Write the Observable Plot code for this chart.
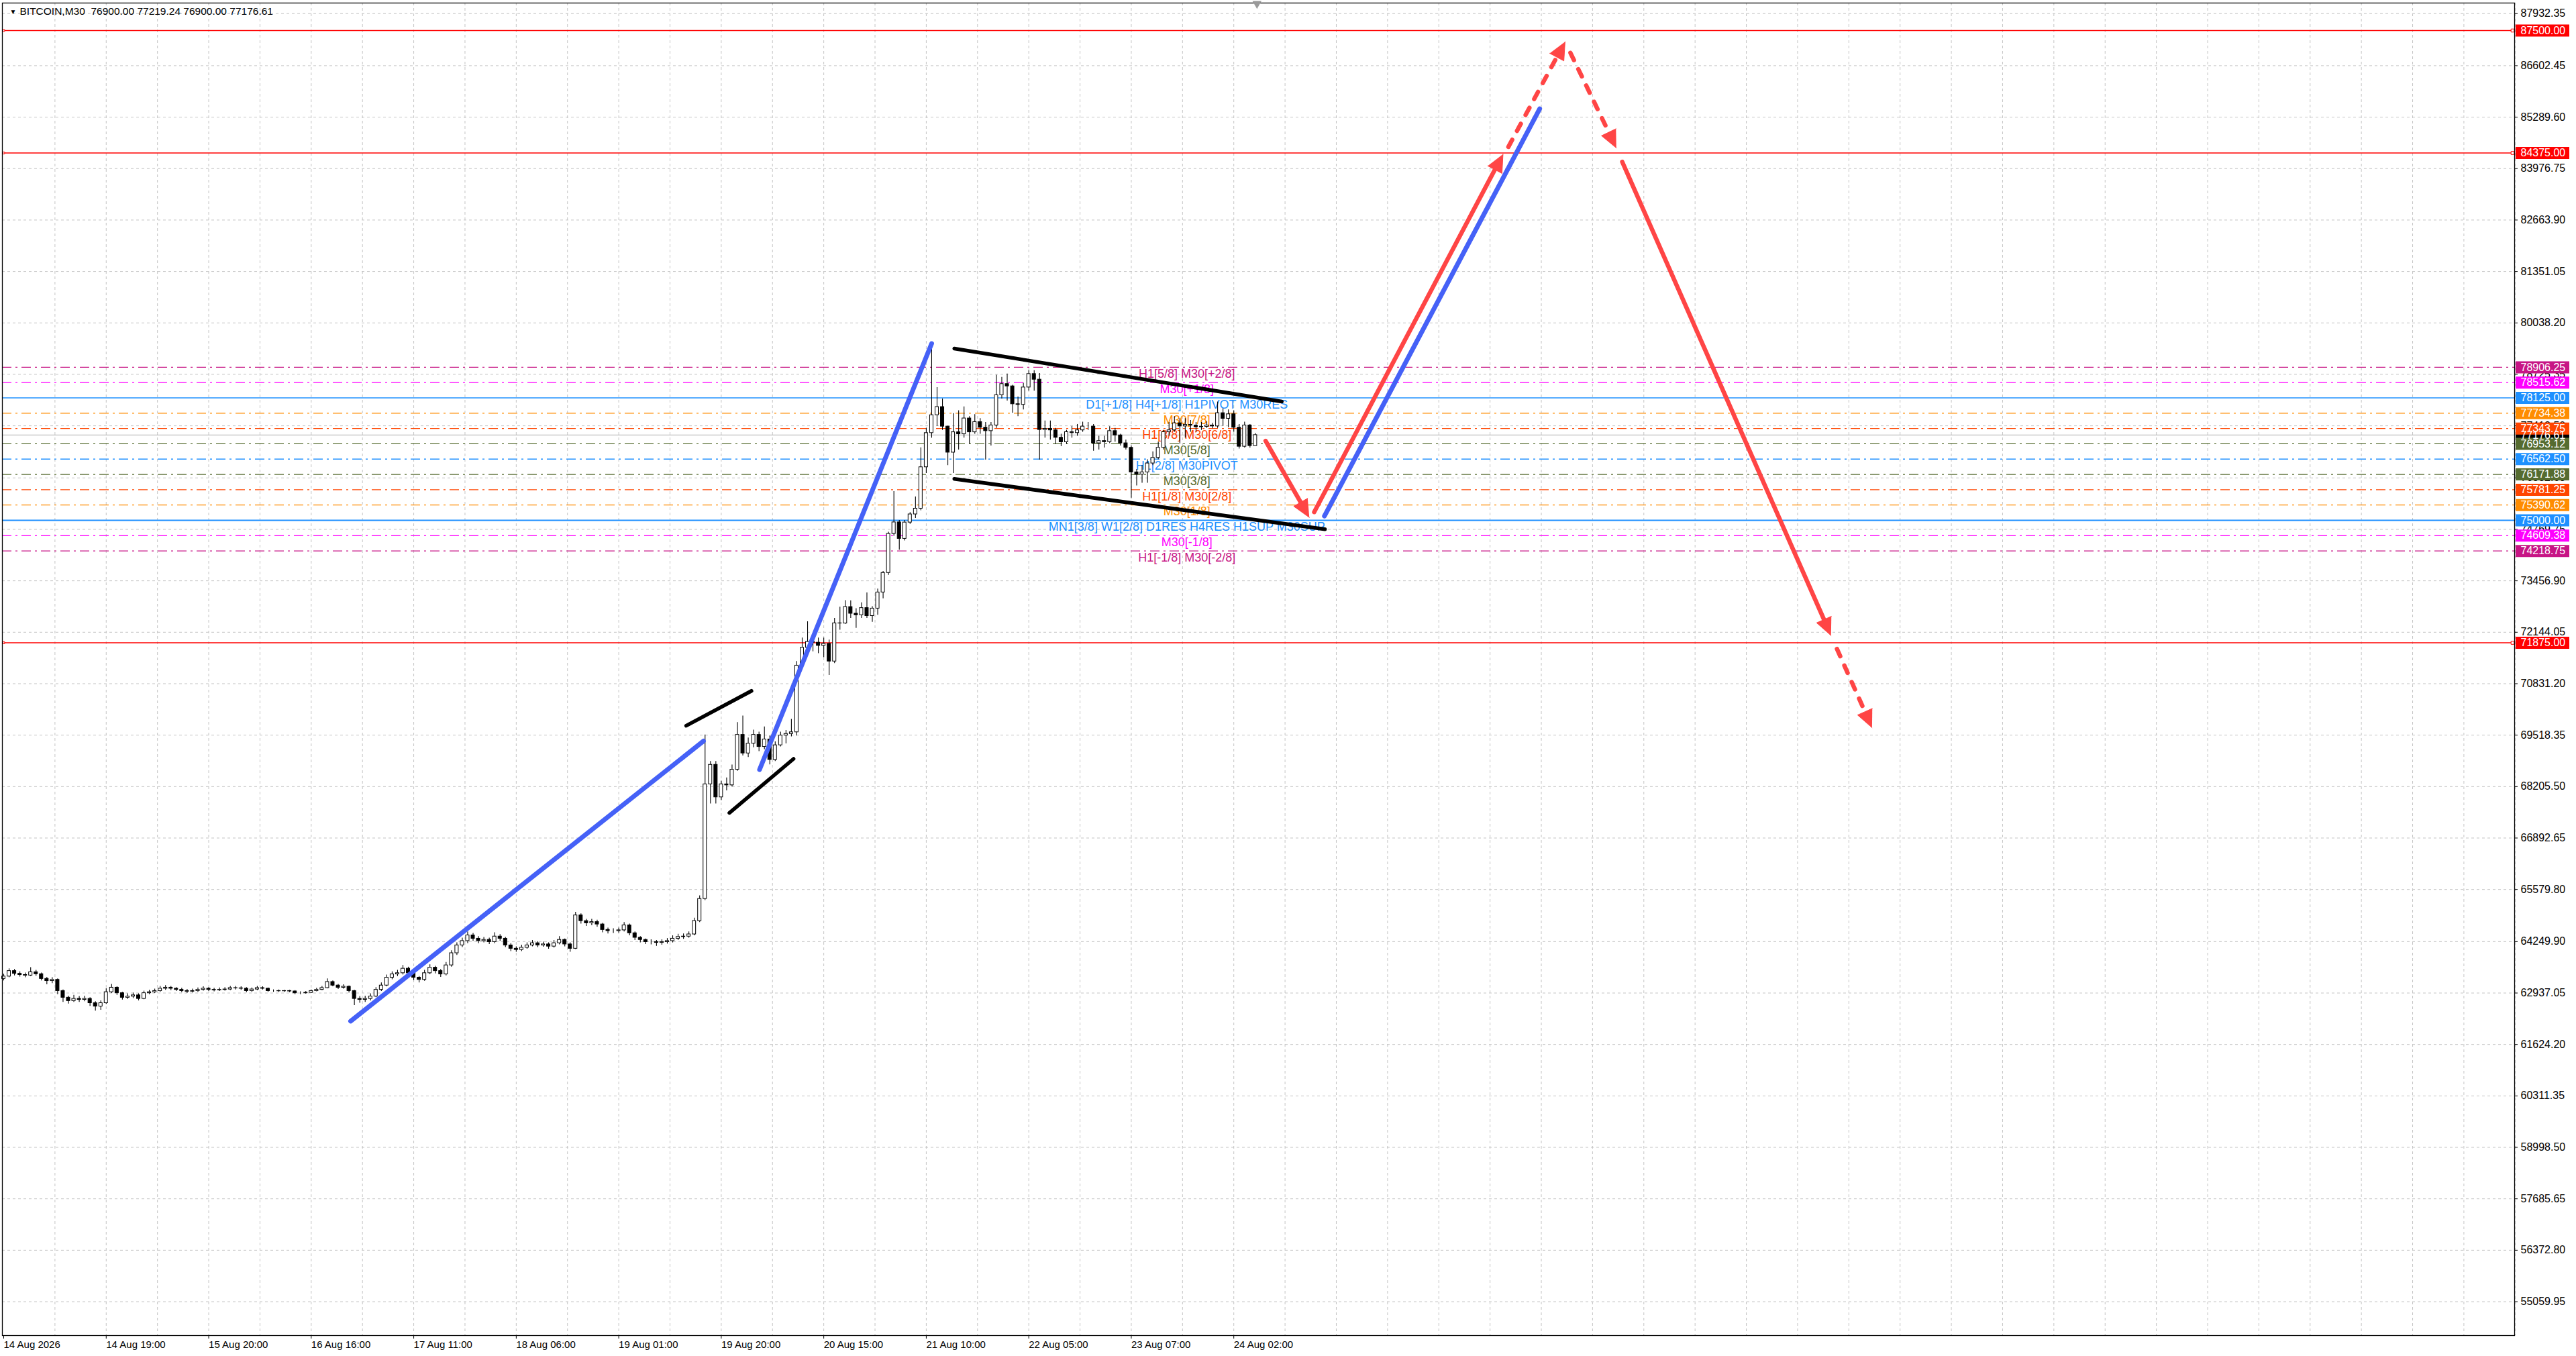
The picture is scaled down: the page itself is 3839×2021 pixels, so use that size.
<!DOCTYPE html>
<html><head><meta charset="utf-8">
<script src="https://cdn.jsdelivr.net/npm/d3@7"></script>
<script src="https://cdn.jsdelivr.net/npm/@observablehq/plot@0.6"></script>
<style>
html,body{margin:0;padding:0;background:#fff;}
#chart svg{display:block;}
</style></head><body><div id="chart"></div>
<script>
// ---------- data ----------
const symbol = "BITCOIN", period = "M30";
const firstOpen = 63300;
const barClose = [
63360,63500,63430,63400,63385,63470,63420,63300,63245,63275,
62990,62820,62735,62790,62765,62790,62680,62595,62680,62960,
63075,62935,62820,62850,62880,62790,62935,62960,62990,63050,
63075,63050,63020,62990,62975,62990,63020,63050,63020,63010,
63020,63030,63065,63060,63050,62990,63030,63065,63050,62990,
62990,62985,62990,62980,62935,62935,62945,62990,63020,63065,
63220,63130,63075,63100,62990,62790,62765,62790,62850,63020,
63130,63330,63415,63445,63560,63445,63330,63275,63445,63585,
63500,63415,63645,63955,64155,64265,64410,64325,64265,64295,
64240,64380,64325,64155,64070,64040,64095,64155,64210,64155,
64180,64125,64210,64295,64180,64070,64920,64775,64720,64750,
64690,64550,64520,64520,64540,64665,64465,64350,64295,64240,
64240,64220,64240,64265,64325,64370,64380,64435,64775,65340,
68265,68763,67933,68265,68240,68638,69527,69054,69303,69527,
69220,69411,68888,69261,69510,69551,69593,71294,71750,71900,
71880,71800,71850,71400,72374,72370,72789,72620,72581,72763,
72560,72750,73162,73660,74656,74950,74531,74946,75154,75300,
76357,77229,77685,77893,77395,76731,77250,77200,77602,77250,
77510,77367,77280,77424,78194,78480,78422,77966,77950,78393,
78736,78593,77310,77338,77300,77110,76996,77253,77230,77300,
77395,77395,76968,77025,77000,77280,77170,76968,76853,76227,
76170,76227,76454,76597,76853,77253,77300,77480,77400,77440,
77420,77380,77390,77424,77400,77737,77595,77709,77367,76882,
77424,76900,77176.61];
const barHigh = [
63420,63560,63540,63480,63450,63590,63520,63450,63340,63330,
63300,63020,62860,62880,62850,62860,62820,62720,62740,63050,
63160,63100,62960,62920,62940,62920,62990,63010,63040,63110,
63130,63110,63080,63060,63030,63040,63070,63100,63080,63060,
63070,63080,63110,63110,63100,63080,63070,63110,63100,63070,
63020,63020,63010,63010,63000,62970,62980,63020,63060,63110,
63300,63250,63160,63150,63120,63010,62850,62860,62920,63080,
63200,63400,63480,63520,63645,63600,63480,63360,63520,63660,
63620,63540,63720,64020,64220,64340,64500,64460,64380,64360,
64340,64480,64430,64360,64200,64120,64160,64220,64280,64250,
64240,64220,64280,64380,64320,64220,65000,64960,64820,64820,
64800,64720,64600,64580,64600,64740,64700,64500,64380,64320,
64300,64280,64300,64330,64400,64440,64450,64500,64850,65420,
69527,68850,68850,68350,68430,68760,69842,70008,69450,69650,
69600,69730,69500,69350,69600,69640,69925,71400,72000,72415,
72100,72000,72000,71950,72500,72789,72955,72950,72750,72900,
73150,72800,73250,73700,74700,75735,75000,75000,75200,75600,
76855,77350,79470,78391,78100,77400,77727,77800,77900,77650,
77700,77600,77500,77500,78707,78650,78736,78450,78150,78500,
78821,78821,78750,77538,77538,77350,77200,77300,77400,77450,
77510,77500,77450,77150,77150,77395,77350,77200,77050,76900,
76300,76400,76550,76750,77000,77300,77500,77650,77600,77600,
77550,77500,77500,77520,77480,78023,77850,77823,77800,77450,
77510,77450,77219.24];
const barLow = [
63250,63330,63380,63350,63330,63360,63370,63250,63150,63180,
62900,62700,62660,62700,62700,62720,62600,62480,62500,62650,
62930,62880,62760,62780,62800,62740,62770,62900,62930,62960,
63010,63000,62980,62950,62930,62940,62960,62990,62980,62970,
62980,62990,63000,63020,63010,62950,62960,63000,63020,62960,
62960,62960,62960,62950,62900,62900,62910,62930,62970,63000,
63050,63100,63030,63040,62940,62620,62680,62700,62740,62820,
62980,63100,63280,63360,63400,63380,63260,63200,63240,63410,
63430,63340,63380,63600,63900,64100,64200,64260,64200,64220,
64180,64200,64260,64100,64000,63980,64000,64060,64120,64100,
64110,64060,64090,64170,64120,63980,64050,64700,64640,64660,
64620,64480,64450,64460,64470,64500,64400,64280,64220,64180,
64170,64130,64160,64190,64220,64280,64310,64340,64400,64740,
65300,67767,67767,67850,68100,68200,68600,68990,68950,69200,
69100,69150,68763,68850,69220,69300,69480,69500,71250,71700,
71650,71600,71500,71045,71350,72200,72350,72500,72249,72500,
72500,72400,72580,73000,73600,74600,74241,74480,74900,75050,
75250,76200,77100,77400,77300,76399,76198,76800,77100,76950,
77200,77200,76540,76900,77350,78100,78050,77737,77650,77823,
78300,78300,76540,77100,77050,76940,76882,76940,77100,77150,
77250,77300,76768,76800,76850,76960,77000,76900,76800,75570,
75884,75950,75950,76400,76550,76800,77150,77250,76950,77100,
77250,77250,77300,77350,77340,77350,77400,77367,77250,76825,
76850,76850,76900];

const xTickBars = [0,19,38,57,76,95,114,133,152,171,190,209,228];
const xTickLabels = ["14 Aug 2026","14 Aug 19:00","15 Aug 20:00","16 Aug 16:00","17 Aug 11:00","18 Aug 06:00","19 Aug 01:00","19 Aug 20:00","20 Aug 15:00","21 Aug 10:00","22 Aug 05:00","23 Aug 07:00","24 Aug 02:00"];
const yTickValues = [87932.35,86602.45,85289.60,83976.75,82663.90,81351.05,80038.20,78725.35,77412.50,76082.60,74769.75,73456.90,72144.05,70831.20,69518.35,68205.50,66892.65,65579.80,64249.90,62937.05,61624.20,60311.35,58998.50,57685.65,56372.80,55059.95];

const levelPrices = [78906.25,78515.62,78125.00,77734.38,77343.75,76953.12,76562.50,76171.88,75781.25,75390.62,75000.00,74609.38,74218.75];
const levelNames = ["H1[5/8] M30[+2/8]","M30[+1/8]","D1[+1/8] H4[+1/8] H1PIVOT M30RES","M30[7/8]","H1[3/8] M30[6/8]","M30[5/8]","H1[2/8] M30PIVOT","M30[3/8]","H1[1/8] M30[2/8]","M30[1/8]","MN1[3/8] W1[2/8] D1RES H4RES H1SUP M30SUP","M30[-1/8]","H1[-1/8] M30[-2/8]"];
const alertPrices = [87500, 84375, 71875];
const bidPrice = 77176.61;

// drawn objects, in (bar index, price)
const blueLines = [[[64.3,62220],[129.7,69366]],[[140.1,68639],[172.0,79512]],[[244.8,75108],[284.7,85503]]];
const blackLines = [[[126.5,69759],[138.6,70647]],[[134.5,67534],[146.4,68913]],[[176.2,79384],[236.9,78030]],[[176.2,76057],[244.9,74772]]];
const redArrowFrom = [[233.9,77026],[242.9,75211],[278.9,84532],[290.4,86930],[300.0,84149],[339.8,71718]];
const redArrowTo   = [[242.0,75074],[277.9,84344],[289.4,87214],[298.9,84503],[338.7,72060],[346.3,69709]];
const redArrowDashed = [false,false,true,true,false,true];

// ---------- styles / layout ----------
const levelColor = ["#c71585","#ff00ff","#1e90ff","#ff8c00","#ff4500","#556b2f","#1e90ff","#556b2f","#ff4500","#ff8c00","#1e90ff","#ff00ff","#c71585"];
const levelSolid = [false,false,true,false,false,false,false,false,false,false,true,false,false];
const levelLabelBar = 219.3;
const W = 3839, H = 2021, mL = 3, mR = 92, mT = 4, mB = 31;
const X0 = -0.25, X1 = 465.4, Y0 = 54196, Y1 = 88202;
const kx = (W - mL - mR) / (X1 - X0), ky = (H - mT - mB) / (Y1 - Y0);
const FONT = "'Liberation Sans', Arial, sans-serif";
const RED = "#ff4545", BLUE = "#4561f7";
const fmt = d => d.toFixed(2);

// ---------- derived ----------
const bars = barClose.map((c, i) => ({i, open: i ? barClose[i - 1] : firstOpen, close: c, high: barHigh[i], low: barLow[i]}));
const last = bars[bars.length - 1];
const levels = levelPrices.map((p, k) => ({price: p, name: levelNames[k], color: levelColor[k], solid: levelSolid[k]}));
const labelOf = new Map(xTickBars.map((b, k) => [b, xTickLabels[k]]));
const boxes = [{price: bidPrice, color: "#000000"}]
  .concat(alertPrices.map(p => ({price: p, color: "#ff0000"})))
  .concat(levels.map(l => ({price: l.price, color: l.color})));

const toPts = (segs) => segs.flatMap((s, id) => s.map(([x, y]) => ({id, x, y})));
const shafts = [], heads = [];
redArrowFrom.forEach((f, id) => {
  const t = redArrowTo[id];
  const dxp = (t[0] - f[0]) * kx, dyp = -(t[1] - f[1]) * ky;
  const L = Math.hypot(dxp, dyp), ux = dxp / L, uy = dyp / L;
  const len = 26, half = 12;
  const bx = -ux * len, by = -uy * len;
  const toData = (ox, oy) => ({id, x: t[0] + ox / kx, y: t[1] - oy / ky});
  shafts.push({id, dashed: redArrowDashed[id], x: f[0], y: f[1]});
  const e = toData(-ux * len * 0.8, -uy * len * 0.8);
  shafts.push({id, dashed: redArrowDashed[id], x: e.x, y: e.y});
  heads.push(toData(0, 0), toData(bx - uy * half, by + ux * half), toData(bx + uy * half, by - ux * half));
});

const chart = Plot.plot({
  width: W, height: H,
  marginLeft: mL, marginRight: mR, marginTop: mT, marginBottom: mB,
  x: {domain: [X0, X1], axis: null},
  y: {domain: [Y0, Y1], axis: null},
  style: {fontFamily: FONT, fontSize: "16px", background: "#fff", overflow: "visible"},
  marks: [
    // grid
    Plot.ruleX(d3.range(9.5, 466, 9.5), {stroke: "#c4c4c4", strokeDasharray: "4,4"}),
    Plot.ruleY(yTickValues, {stroke: "#c4c4c4", strokeDasharray: "4,4"}),
    // price levels
    Plot.ruleY([bidPrice], {stroke: "#c0c0c0", strokeWidth: 1.2}),
    Plot.ruleY(levels.filter(d => !d.solid), {y: "price", stroke: "color", strokeWidth: 1.3, strokeDasharray: "14,6,3,6"}),
    Plot.ruleY(levels.filter(d => d.solid && d.price !== 75000), {y: "price", stroke: "color", strokeWidth: 1.5}),
    Plot.ruleY(levels.filter(d => d.price === 75000), {y: "price", stroke: "color", strokeWidth: 2.2}),
    Plot.ruleY(alertPrices, {stroke: "#ff0000", strokeWidth: 1.4}),
    Plot.dot(alertPrices, {y: d => d, frameAnchor: "right", dx: -3, symbol: "square", r: 2.6, stroke: "#ff0000", fill: "#fff", strokeWidth: 1}),
    Plot.dot(alertPrices, {y: d => d, frameAnchor: "left", dx: 2, symbol: "square", r: 1.6, stroke: "#ff0000", fill: "#fff", strokeWidth: 1}),
    // level labels
    Plot.text(levels, {x: () => levelLabelBar, y: "price", text: "name", fill: "color", dy: 10, fontSize: 18, textAnchor: "middle"}),
    // candles
    Plot.ruleX(bars, {x: "i", y1: "low", y2: "high", stroke: "#000", strokeWidth: 1.1}),
    Plot.rect(bars, {x1: d => d.i - 0.31, x2: d => d.i + 0.31, y1: "open", y2: "close",
      fill: d => d.close >= d.open ? "#fff" : "#000", stroke: "#000", strokeWidth: 1}),
    // drawings
    Plot.line(toPts(blackLines), {x: "x", y: "y", z: "id", stroke: "#000", strokeWidth: 5.5, strokeLinecap: "round"}),
    Plot.line(toPts(blueLines), {x: "x", y: "y", z: "id", stroke: BLUE, strokeWidth: 7, strokeLinecap: "round"}),
    Plot.line(shafts.filter(d => !d.dashed), {x: "x", y: "y", z: "id", stroke: RED, strokeWidth: 6.5, strokeLinecap: "round"}),
    Plot.line(shafts.filter(d => d.dashed), {x: "x", y: "y", z: "id", stroke: RED, strokeWidth: 6.5, strokeLinecap: "round", strokeDasharray: "12,15"}),
    Plot.line(heads, {x: "x", y: "y", z: "id", fill: RED, stroke: RED, strokeWidth: 1, strokeLinejoin: "round"}),
    // axes
    Plot.axisY(yTickValues, {anchor: "right", tickSize: 4, tickPadding: 5, tickFormat: fmt, fontSize: 16, label: null}),
    Plot.axisX(xTickBars, {anchor: "bottom", tickSize: 5, tickPadding: 3, tickFormat: d => labelOf.get(d), textAnchor: "start", fontSize: 15, label: null}),
    // right-side price boxes
    Plot.ruleY(boxes, {y: "price", stroke: "color", strokeWidth: 18, dx: W - mR - mL + 2, insetRight: W - mL - mR - 80}),
    Plot.text(boxes, {y: "price", text: d => fmt(d.price), frameAnchor: "right", dx: 9, textAnchor: "start", fill: "#fff", fontSize: 16}),
    Plot.frame({stroke: "#000", strokeWidth: 1.3}),
    // header & chart shift marker
    Plot.text(["▼"], {frameAnchor: "top-left", dx: 11, dy: 9, fontSize: 10, fill: "#000"}),
    Plot.text([`${symbol},${period}  ${fmt(last.open)} ${fmt(last.high)} ${fmt(last.low)} ${fmt(last.close)}`],
      {frameAnchor: "top-left", textAnchor: "start", lineAnchor: "top", dx: 26, dy: 6, fontSize: 15.5, fill: "#000"}),
    Plot.dot([last.i], {x: d => d + 0.3, frameAnchor: "top", symbol: "triangle", rotate: 180, r: 5, fill: "#9a9a9a", stroke: "none", dy: 1})
  ]
});
document.getElementById("chart").append(chart);
</script>
</body></html>
